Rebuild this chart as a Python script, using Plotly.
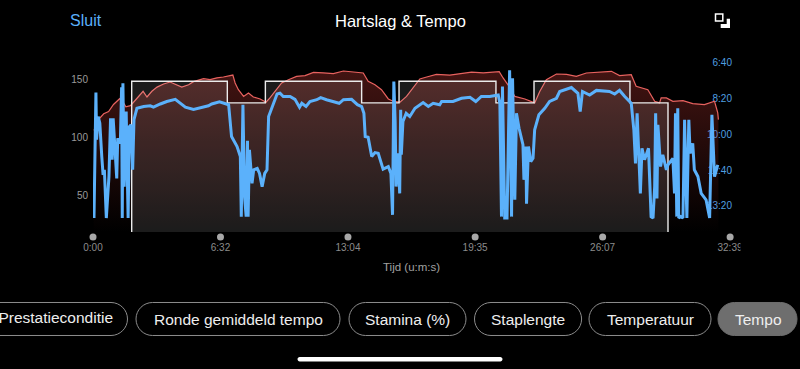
import plotly.graph_objects as go

W, H = 800, 369

hr_t = [2,7,12,23,33,48,63,82,94,101,115,130,145,154,166,181,197,217,237,253,273,294,309,340,360,381,401,430,437,447,463,478,493,514,532,544,565,580,601,626,652,678,708,739,770,800,831,846,867,887,908,923,944,964,980,1005,1026,1056,1097,1128,1164,1200,1249,1261,1276,1297,1328,1358,1374,1394,1425,1456,1486,1517,1558,1594,1619,1655,1670,1706,1727,1742,1747,1763,1783,1814,1844,1880,1911,1921,1923]
hr_v = [106,106.4,113.6,116.5,120,122,128,133,129.4,126,127,131.7,136.5,139.4,134.5,139.4,143,145.7,147.4,145.7,143,145,147.7,150.3,149.4,151,151.7,153.4,146.6,140.8,135,138,134.5,132.8,130,133.7,140.8,146.6,149.4,152.3,152.9,155.7,155.2,154.6,156.9,156.3,155.2,148,145,140.8,132.8,130.8,130,135,140.8,150,151.7,154,153.4,154.6,156,155.2,156.3,150.9,145,135,132.8,129.4,139.4,149.4,154.3,154,152.3,155.2,155.7,156.6,152.9,153.7,143.7,140.8,130.8,129.4,133.7,133.7,130.8,131.4,128.8,127.9,130.8,120.8,115]

pace_t = [3,9,11,16,21,25,27,31,35,41,49,54,59,62,66,73,76,84,88,90,92,96,102,108,112,117,122,126,135,156,176,186,207,227,253,268,284,309,335,355,365,389,417,426,443,453,456,461,466,471,475,477,481,489,494,505,512,520,528,535,540,556,566,575,585,606,621,635,642,655,667,688,700,718,744,757,770,795,813,826,833,837,846,857,867,877,892,908,916,921,925,929,932,938,943,946,948,953,963,974,990,1015,1031,1046,1066,1072,1107,1133,1159,1177,1194,1220,1246,1251,1256,1259,1266,1273,1281,1287,1290,1297,1302,1310,1322,1325,1331,1333,1339,1346,1353,1358,1371,1389,1404,1425,1435,1471,1491,1498,1505,1527,1548,1588,1604,1619,1635,1655,1663,1668,1673,1678,1683,1688,1696,1708,1716,1722,1727,1730,1734,1737,1745,1752,1763,1768,1783,1788,1791,1795,1798,1801,1807,1814,1819,1826,1832,1836,1844,1849,1860,1870,1885,1896,1903,1911,1921]
pace_v = [834,483,615,550,569,615,662,713,699,834,718,555,671,555,620,723,611,625,468,834,457,746,536,834,578,573,699,559,527,522,520,524,515,508,502,513,524,530,524,520,515,509,517,606,634,662,830,517,774,830,618,830,643,737,699,695,709,746,709,699,550,513,487,485,494,494,502,524,513,522,508,503,497,503,511,513,503,502,517,522,541,606,608,662,651,653,697,690,709,825,452,564,746,653,765,531,657,564,541,550,527,511,522,513,517,508,508,499,496,508,494,494,490,513,830,466,834,834,421,830,443,783,541,583,629,727,634,794,634,676,667,587,545,527,508,499,480,469,485,536,480,490,477,480,487,477,494,513,587,681,541,681,765,639,671,639,830,834,746,541,779,573,690,657,699,685,667,765,541,830,527,834,830,834,559,834,559,653,625,699,718,765,783,834,545,718,685]

lap_t = [119,119,413,530,826,941,1239,1356,1651,1768]
lap_v = [0,148,129.4,148,129.4,148,129.4,148,129.4,0]

x_tick_vals = [0,392,784,1175,1567,1959]
x_tick_text = ["0:00","6:32","13:04","19:35","26:07","32:39"]
hr_ticks = [50,100,150]
pace_ticks = [400,500,600,700,800]
pace_tick_text = ["6:40","8:20","10:00","11:40","13:20"]

pills = ["Prestatieconditie","Ronde gemiddeld tempo","Stamina (%)","Staplengte","Temperatuur","Tempo"]

FONT = "Liberation Sans"
BLUE = "#5bb1fb"

def X(p): return p / W
def Y(p): return 1 - p / H

def rounded(x0, y0, x1, y1, r):
    k = 0.45 * r
    pts = [("M", x0 + r, y0), ("L", x1 - r, y0),
           ("C", x1 - k, y0, x1, y0 + k, x1, y0 + r), ("L", x1, y1 - r),
           ("C", x1, y1 - k, x1 - k, y1, x1 - r, y1), ("L", x0 + r, y1),
           ("C", x0 + k, y1, x0, y1 - k, x0, y1 - r), ("L", x0, y0 + r),
           ("C", x0, y0 + k, x0 + k, y0, x0 + r, y0)]
    out = []
    for p in pts:
        c = p[1:]
        out.append(p[0] + " ".join(f"{X(c[i]):.5f},{Y(c[i+1]):.5f}" for i in range(0, len(c), 2)))
    return " ".join(out) + " Z"

fig = go.Figure()
fig.add_trace(go.Scatter(x=hr_t, y=hr_v, mode="lines", line=dict(color="#e8625f", width=1.2), fill="tozeroy",
    fillgradient=dict(type="vertical", start=157, stop=18,
        colorscale=[[0, "rgba(185,55,50,0.36)"], [1, "rgba(185,55,50,0)"]])))
fig.add_trace(go.Scatter(x=lap_t, y=lap_v, mode="lines", line=dict(color="#ececec", width=1.4, shape="hv"),
    fill="tozeroy", fillcolor="rgba(255,255,255,0.11)"))
fig.add_trace(go.Scatter(x=pace_t, y=pace_v, mode="lines", yaxis="y2", line=dict(color=BLUE, width=3)))
fig.add_trace(go.Scatter(x=x_tick_vals, y=[0.5]*6, mode="markers", yaxis="y3", cliponaxis=False,
    marker=dict(color="#a8a8a8", size=7)))
fig.add_trace(go.Scatter(x=[113, 730], y=[319, 248], mode="text", xaxis="x2", yaxis="y4",
    text=[pills[0], x_tick_text[-1]], textposition=["middle left", "middle center"],
    textfont=dict(color=["#eeeeee", "#8c8c8c"], size=[15.5, 10])))

shapes = []
pill_box = [(-20,127.5),(136,340),(349,466),(474.5,581.6),(589,711),(718,797)]
for i, (a, b) in enumerate(pill_box):
    active = i == len(pill_box) - 1
    shapes.append(dict(type="path", xref="paper", yref="paper", path=rounded(a, 302.5, b, 335.5, 16.5),
        fillcolor="#6e6e6e" if active else "rgba(0,0,0,0)",
        line=dict(color="#6e6e6e" if active else "#8c8c8c", width=1)))
shapes.append(dict(type="path", xref="paper", yref="paper", path=rounded(297.5, 357, 502.5, 361.5, 2.2),
    fillcolor="white", line=dict(width=0)))
shapes.append(dict(type="rect", xref="paper", yref="paper", x0=X(715.5), x1=X(722.8), y0=Y(14), y1=Y(21),
    line=dict(color="white", width=1.5), fillcolor="rgba(0,0,0,0)"))
poly = [(720.7,24),(726.7,24),(726.7,18.7),(730,18.7),(730,28),(720.7,28)]
shapes.append(dict(type="path", xref="paper", yref="paper",
    path="M" + " L".join(f"{X(a):.5f},{Y(b):.5f}" for a, b in poly) + " Z",
    fillcolor="white", line=dict(width=0)))

ann = [
    dict(x=X(68), y=Y(21), text="Sluit", xanchor="left", font=dict(color=BLUE, size=16)),
    dict(x=X(400), y=Y(21), text="Hartslag & Tempo", xanchor="center", font=dict(color="white", size=16.5)),
    dict(x=X(411.5), y=Y(267), text="Tijd (u:m:s)", xanchor="center", font=dict(color="#a0a0a0", size=11.5)),
    dict(x=X(740), y=Y(248), text="&nbsp;", xanchor="left", width=12, height=14, bgcolor="black", font=dict(size=10)),
]
for cx, t in zip([238, 407.5, 528, 650, 758], pills[1:]):
    ann.append(dict(x=X(cx), y=Y(319), text=t, xanchor="center", font=dict(color="#eeeeee", size=15.5)))
for a in ann:
    a.update(xref="paper", yref="paper", yanchor="middle", showarrow=False)

fig.update_layout(
    width=W, height=H, margin=dict(l=0, r=0, t=0, b=0), autosize=False, showlegend=False,
    paper_bgcolor="black", plot_bgcolor="rgba(0,0,0,0)", font=dict(family=FONT),
    shapes=shapes, annotations=ann,
    xaxis=dict(domain=[X(93), X(735)], range=[0, 1974], showgrid=False, zeroline=False, showline=False, automargin=False,
        tickmode="array", tickvals=x_tick_vals, ticktext=x_tick_text, ticks="", ticklabelstandoff=8,
        tickfont=dict(color="#8c8c8c", size=10)),
    xaxis2=dict(domain=[0, 1], range=[0, W], visible=False, anchor="y4", automargin=False),
    yaxis=dict(domain=[Y(232), Y(50)], range=[18.1, 175], showgrid=False, zeroline=False, showline=False, automargin=False,
        tickmode="array", tickvals=hr_ticks, ticks="", ticklabelstandoff=4,
        tickfont=dict(color="#9a9a9a", size=10)),
    yaxis2=dict(overlaying="y", side="right", range=[873, 364], showgrid=False, zeroline=False, showline=False, automargin=False,
        tickmode="array", tickvals=pace_ticks, ticktext=pace_tick_text, ticks="",
        ticklabelposition="inside", layer="below traces",
        tickfont=dict(color="#4f9fe0", size=10)),
    yaxis3=dict(domain=[Y(242), Y(232)], range=[0, 1], visible=False, automargin=False),
    yaxis4=dict(domain=[0, 1], range=[H, 0], visible=False, anchor="x2", automargin=False),
)
fig.write_html("out.html", config=dict(displayModeBar=False),
    post_script="document.body.style.margin='0';document.body.style.overflow='hidden';document.body.style.background='black';")
